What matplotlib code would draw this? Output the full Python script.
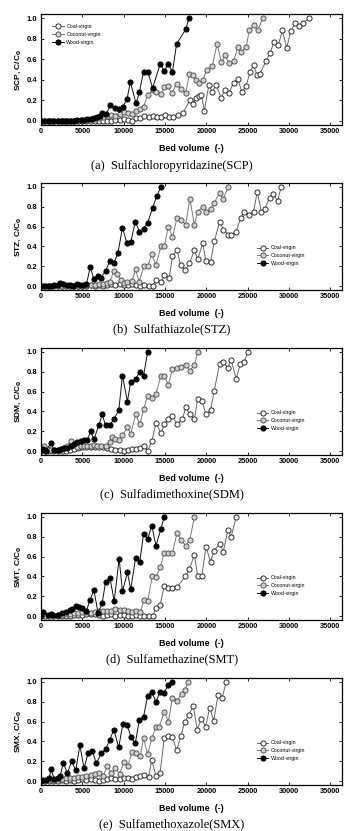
import matplotlib
matplotlib.use("Agg")
import matplotlib.pyplot as plt

# ---- data (bed volume vs C/C0) ----
bv_ticks = [0, 5000, 10000, 15000, 20000, 25000, 30000, 35000]
y_ticks = [0.0, 0.2, 0.4, 0.6, 0.8, 1.0]
series_names = ["Coal-virgin", "Coconut-virgin", "Wood-virgin"]
compounds = ["SCP", "STZ", "SDM", "SMT", "SMX"]
captions = ["(a)  Sulfachloropyridazine(SCP)", "(b)  Sulfathiazole(STZ)",
            "(c)  Sulfadimethoxine(SDM)", "(d)  Sulfamethazine(SMT)",
            "(e)  Sulfamethoxazole(SMX)"]

# (a) SCP
coal_a_x = [0, 500, 1000, 1500, 2000, 2500, 3000, 3500, 4000, 4500, 5000, 5500, 6000, 6500, 7000, 7500,
            8000, 8500, 9000, 9500, 10000, 10500, 11000, 11500, 12000, 12500, 13000, 13500, 14000, 14500,
            15000, 15500, 16000, 16600, 17200, 18000, 18350, 18750, 19150, 19400, 19750, 20300, 20700,
            21200, 21800, 22200, 22700, 23300, 23800, 24300, 24800, 25300, 25700, 26100, 26500, 27200,
            27700, 28200, 28700, 29200, 29700, 30200, 30700, 31200, 31700, 32400]
coal_a_y = [0, 0, 0, 0, 0, 0, 0, 0, 0, 0, 0, 0, 0, 0, 0, 0, 0, 0, 0.01, 0.01, 0.02, 0.01, 0.0, 0.03,
            0.03, 0.045, 0.04, 0.05, 0.04, 0.04, 0.06, 0.04, 0.04, 0.06, 0.08, 0.2, 0.16, 0.22, 0.24,
            0.25, 0.1, 0.35, 0.28, 0.35, 0.22, 0.3, 0.27, 0.37, 0.41, 0.28, 0.34, 0.48, 0.54, 0.45, 0.46,
            0.58, 0.66, 0.77, 0.74, 0.88, 0.71, 0.87, 0.95, 0.92, 0.95, 1.0]
coco_a_x = [0, 500, 1000, 1500, 2000, 2500, 3000, 3500, 4000, 4500, 5000, 5500, 6000, 6500, 7000, 7500,
            8000, 8500, 9000, 9500, 10000, 10500, 11000, 11500, 12000, 12400, 12900, 13500, 13900, 14500,
            14900, 15300, 15800, 16400, 16900, 17500, 17950, 18350, 18750, 19150, 19550, 20100, 20700,
            21300, 21800, 22300, 22700, 23300, 23800, 24200, 24800, 25200, 25700, 26200, 26800]
coco_a_y = [0, 0, 0, 0, 0, 0, 0, 0, 0, 0, 0.01, 0.01, 0.02, 0.02, 0.03, 0.04, 0.05, 0.06, 0.05, 0.07,
            0.09, 0.08, 0.07, 0.1, 0.12, 0.14, 0.25, 0.3, 0.28, 0.26, 0.33, 0.34, 0.27, 0.36, 0.31, 0.27,
            0.46, 0.45, 0.4, 0.37, 0.4, 0.5, 0.53, 0.75, 0.57, 0.64, 0.56, 0.58, 0.72, 0.67, 0.72, 0.88,
            0.93, 0.88, 1.0]
wood_a_x = [0, 400, 800, 1200, 1600, 2000, 2400, 2800, 3200, 3600, 4000, 4400, 4800, 5200, 5600, 6000,
            6400, 6800, 7100, 7400, 7900, 8400, 9000, 9400, 9900, 10400, 10800, 11500, 11900, 12400,
            12900, 13500, 14400, 14900, 15400, 15900, 16400, 17500, 17900]
wood_a_y = [0, 0, 0, 0, 0, 0, 0, 0, 0, 0, 0, 0.01, 0.01, 0.01, 0.02, 0.02, 0.03, 0.04, 0.05, 0.08,
            0.07, 0.15, 0.13, 0.12, 0.14, 0.21, 0.38, 0.17, 0.28, 0.48, 0.48, 0.32, 0.55, 0.49, 0.55,
            0.48, 0.75, 0.89, 1.0]

# (b) STZ
coal_b_x = [0, 500, 1000, 1500, 2000, 2500, 3000, 3500, 4000, 4500, 5000, 5500, 6000, 6500, 7000, 7500,
            8000, 8500, 9000, 9500, 10000, 10500, 11000, 11500, 12000, 12500, 13000, 13500, 13900, 14500,
            14900, 15500, 15900, 16450, 16900, 17450, 17950, 18550, 18950, 19550, 19950, 20500, 20950,
            21600, 22050, 22600, 23000, 23600, 24150, 24600, 25200, 25700, 26150, 26650, 27050, 27650,
            28050, 28600, 29050]
coal_b_y = [0, 0, 0, 0, 0, 0, 0, 0, 0, 0, 0, 0, 0.01, 0.0, 0.01, 0.0, 0.01, 0.02, 0.01, 0.02, 0.01,
            0.01, 0.02, 0.01, 0.0, 0.01, 0.0, 0.0, 0.06, 0.04, 0.11, 0.08, 0.3, 0.36, 0.21, 0.16, 0.23,
            0.36, 0.27, 0.43, 0.25, 0.24, 0.45, 0.65, 0.57, 0.52, 0.52, 0.55, 0.69, 0.75, 0.72, 0.75,
            0.95, 0.75, 0.78, 0.89, 0.93, 0.86, 1.0]
coco_b_x = [0, 500, 1000, 1500, 2000, 2500, 3000, 3500, 4000, 4500, 5000, 5500, 6000, 6500, 7000, 7500,
            8000, 8300, 8800, 9250, 9650, 10050, 10450, 11000, 11450, 11850, 12450, 12900, 13400, 13900,
            14500, 14900, 15400, 15900, 16450, 16900, 17500, 18000, 18550, 18950, 19550, 19950, 20500,
            20950, 21600, 22050, 22600]
coco_b_y = [0, 0, 0, 0, 0, 0, 0, 0, 0, 0, 0, 0.01, 0.01, 0.01, 0.02, 0.02, 0.03, 0.04, 0.15, 0.12,
            0.06, 0.03, 0.04, 0.05, 0.17, 0.04, 0.2, 0.2, 0.32, 0.21, 0.4, 0.4, 0.6, 0.49, 0.69, 0.67,
            0.62, 0.88, 0.62, 0.75, 0.8, 0.75, 0.78, 0.84, 0.94, 0.88, 1.0]
wood_b_x = [0, 400, 800, 1200, 1600, 2000, 2300, 2700, 3100, 3500, 3900, 4300, 4700, 5100, 5500, 5950,
            6400, 6850, 7200, 7800, 8300, 8800, 9300, 9850, 10400, 10850, 11400, 11900, 12400, 12900,
            13500, 14000, 14500]
wood_b_y = [0, 0, 0, 0, 0.01, 0.01, 0.03, 0.02, 0.01, 0.01, 0.0, 0.02, 0.01, 0.01, 0.02, 0.19, 0.07,
            0.1, 0.08, 0.15, 0.25, 0.23, 0.33, 0.59, 0.43, 0.44, 0.65, 0.55, 0.58, 0.64, 0.79, 0.91, 1.0]

# (c) SDM
coal_c_x = [0, 500, 1000, 1500, 2000, 2500, 3000, 3500, 4000, 4500, 5000, 5500, 6000, 6500, 7000, 7500,
            8000, 8500, 9000, 9500, 10000, 10500, 11000, 11500, 12000, 12500, 12900, 13400, 13900, 14500,
            14900, 15400, 15900, 16450, 17100, 17500, 18000, 18550, 18950, 19450, 19950, 20500, 20950,
            21600, 22050, 22600, 23000, 23600, 24100, 24600, 25000]
coal_c_y = [0, 0, 0, 0, 0, 0, 0, 0.01, 0.02, 0.03, 0.04, 0.04, 0.04, 0.04, 0.04, 0.04, 0.03, 0.02,
            0.01, 0.01, 0.0, 0.01, 0.02, 0.02, 0.03, 0.05, 0.0, 0.1, 0.28, 0.18, 0.27, 0.32, 0.35, 0.27,
            0.32, 0.44, 0.37, 0.32, 0.53, 0.51, 0.37, 0.41, 0.61, 0.88, 0.9, 0.84, 0.92, 0.73, 0.88, 0.9,
            1.0]
coco_c_x = [0, 400, 800, 1200, 1600, 2000, 2400, 2800, 3200, 3600, 4000, 4400, 4800, 5200, 5600, 6000,
            6400, 6800, 7200, 7800, 8300, 8600, 9000, 9450, 9850, 10450, 10850, 11450, 11950, 12400,
            12900, 13400, 13900, 14500, 14900, 15400, 15900, 16450, 16900, 17500, 18000, 18550, 18950]
coco_c_y = [0.0, 0.05, 0.02, 0.01, 0.01, 0.01, 0.02, 0.03, 0.05, 0.1, 0.06, 0.04, 0.05, 0.05, 0.05,
            0.05, 0.06, 0.05, 0.05, 0.05, 0.09, 0.14, 0.12, 0.11, 0.16, 0.24, 0.17, 0.37, 0.27, 0.42,
            0.56, 0.54, 0.58, 0.76, 0.76, 0.67, 0.83, 0.84, 0.85, 0.87, 0.81, 0.87, 1.0]
wood_c_x = [0, 300, 600, 1200, 1600, 2000, 2400, 2800, 3200, 3600, 4000, 4400, 4800, 5200, 5600, 6000,
            6400, 7000, 7400, 7800, 8300, 8800, 9400, 9850, 10450, 10850, 11450, 11950, 12400, 12900]
wood_c_y = [0.01, 0.02, 0.0, 0.08, 0.01, 0.01, 0.02, 0.03, 0.03, 0.05, 0.07, 0.09, 0.1, 0.11, 0.11,
            0.2, 0.12, 0.26, 0.37, 0.26, 0.26, 0.32, 0.41, 0.76, 0.5, 0.7, 0.73, 0.8, 0.76, 1.0]

# (d) SMT
coal_d_x = [0, 500, 1000, 1500, 2000, 2500, 3000, 3500, 4000, 4500, 5000, 5500, 6000, 6500, 7000, 7500,
            8000, 8500, 9000, 9500, 10000, 10500, 11000, 11500, 12000, 12500, 13000, 13500, 13900, 14400,
            14900, 15400, 15900, 16450, 17450, 17950, 18550, 18950, 19450, 19950, 20500, 20950, 21600,
            22050, 22600, 23000, 23600]
coal_d_y = [0, 0, 0, 0, 0, 0, 0, 0, 0.01, 0.01, 0.01, 0.02, 0.02, 0.02, 0.01, 0.0, 0.01, 0.02, 0.0,
            0.01, 0.01, 0.0, 0.0, 0.01, 0.0, 0.0, 0.0, 0.0, 0.08, 0.11, 0.3, 0.28, 0.28, 0.29, 0.4, 0.47,
            0.62, 0.4, 0.4, 0.7, 0.55, 0.66, 0.73, 0.65, 0.87, 0.8, 1.0]
coco_d_x = [0, 500, 1000, 1500, 2000, 2500, 3000, 3500, 4000, 4500, 5000, 5500, 6000, 6500, 7000, 7500,
            8000, 8500, 9000, 9500, 10000, 10500, 11000, 11500, 12000, 12450, 12900, 13450, 13900, 14400,
            14900, 15400, 15900, 16450, 16900, 17500, 18000, 18550]
coco_d_y = [0, 0, 0, 0, 0.01, 0.01, 0.02, 0.02, 0.03, 0.03, 0.04, 0.04, 0.03, 0.04, 0.05, 0.05, 0.05,
            0.05, 0.07, 0.06, 0.06, 0.05, 0.04, 0.05, 0.04, 0.16, 0.15, 0.4, 0.39, 0.49, 0.64, 0.64, 0.64,
            0.84, 0.77, 0.71, 0.77, 1.0]
wood_d_x = [0, 300, 800, 1200, 1500, 2000, 2500, 3000, 3500, 3800, 4200, 4600, 5000, 5500, 5900, 6400,
            6900, 7400, 7800, 8350, 8850, 9450, 9850, 10450, 10850, 11450, 11950, 12400, 12900, 13400,
            13900, 14500, 14900]
wood_d_y = [0.0, 0.04, 0.01, 0.02, 0.01, 0.01, 0.03, 0.04, 0.06, 0.07, 0.1, 0.09, 0.08, 0.05, 0.16,
            0.26, 0.03, 0.13, 0.34, 0.38, 0.15, 0.58, 0.25, 0.44, 0.27, 0.59, 0.55, 0.83, 0.78, 0.91,
            0.71, 0.88, 1.0]

# (e) SMX
coal_e_x = [0, 500, 1000, 1500, 2000, 2500, 3000, 3500, 4000, 4500, 5000, 5500, 6000, 6500, 7000, 7500,
            8000, 8500, 9000, 9500, 10000, 10500, 11000, 11500, 12000, 12500, 13000, 13400, 13900, 14400,
            14900, 15400, 15900, 16400, 16900, 17400, 17900, 18400, 18900, 19400, 19900, 20400, 20900,
            21400, 21900, 22400]
coal_e_y = [0, 0, 0, 0, 0, 0.01, 0.0, 0.01, 0.0, 0.01, 0.02, 0.01, 0.02, 0.01, 0.0, 0.01, 0.02, 0.03,
            0.02, 0.02, 0.03, 0.03, 0.02, 0.04, 0.05, 0.06, 0.04, 0.21, 0.05, 0.08, 0.43, 0.45, 0.44,
            0.31, 0.45, 0.6, 0.67, 0.76, 0.52, 0.63, 0.55, 0.74, 0.61, 0.87, 0.84, 1.0]
coco_e_x = [0, 500, 1000, 1500, 2000, 2500, 3000, 3500, 4000, 4500, 5000, 5500, 6000, 6500, 7000, 7500,
            8000, 8500, 9000, 9500, 10000, 10500, 11000, 11500, 12000, 12400, 12900, 13400, 13900, 14300,
            14900, 15400, 15900, 16400, 17000, 17400, 17800]
coco_e_y = [0, 0, 0.01, 0.01, 0.02, 0.02, 0.03, 0.03, 0.03, 0.04, 0.04, 0.05, 0.06, 0.07, 0.08, 0.05,
            0.15, 0.08, 0.13, 0.07, 0.19, 0.15, 0.29, 0.28, 0.25, 0.43, 0.27, 0.43, 0.55, 0.55, 0.7, 0.6,
            0.84, 0.81, 0.88, 0.92, 1.0]
wood_e_x = [0, 300, 600, 1000, 1200, 1600, 2000, 2300, 2700, 3200, 3700, 4200, 4700, 5200, 5700, 6200,
            6700, 7300, 7800, 8300, 8800, 9400, 9900, 10400, 10900, 11400, 11900, 12400, 12900, 13400,
            13900, 14400, 14900, 15400, 15800]
wood_e_y = [0.0, 0.01, 0.01, 0.03, 0.12, 0.02, 0.03, 0.05, 0.18, 0.08, 0.2, 0.11, 0.36, 0.13, 0.28,
            0.3, 0.18, 0.28, 0.32, 0.41, 0.52, 0.34, 0.58, 0.57, 0.44, 0.38, 0.62, 0.65, 0.86, 0.9, 0.8,
            0.9, 0.89, 0.97, 1.0]

panels = [
    [(coal_a_x, coal_a_y), (coco_a_x, coco_a_y), (wood_a_x, wood_a_y)],
    [(coal_b_x, coal_b_y), (coco_b_x, coco_b_y), (wood_b_x, wood_b_y)],
    [(coal_c_x, coal_c_y), (coco_c_x, coco_c_y), (wood_c_x, wood_c_y)],
    [(coal_d_x, coal_d_y), (coco_d_x, coco_d_y), (wood_d_x, wood_d_y)],
    [(coal_e_x, coal_e_y), (coco_e_x, coco_e_y), (wood_e_x, wood_e_y)],
]

# marker face, marker edge, line colour per series
styles = [("white", "#2a2a2a", "#666666"),
          ("#d0d0d0", "#555555", "#7a7a7a"),
          ("black", "black", "#111111")]

plt.rcParams["font.family"] = ["Liberation Sans", "DejaVu Sans"]

W, H = 344, 831
fig = plt.figure(figsize=(W / 100, H / 100), dpi=100)

# axes boxes in pixels: (top, bottom)
boxes = [(14, 125), (183, 290), (348, 455), (513, 620), (678, 785)]
cap_y = [166, 329, 494, 659, 824]

for i, data in enumerate(panels):
    top, bot = boxes[i]
    ax = fig.add_axes([41 / W, 1 - bot / H, 301 / W, (bot - top) / H])
    for (x, y), name, (mfc, mec, lc) in zip(data, series_names, styles):
        ax.plot(x, y, "-o", color=lc, lw=0.7, ms=3.7, mfc=mfc, mec=mec, mew=0.7, label=name)
    ax.set_xlim(0, 36400)
    ax.set_ylim(-0.04, 1.04)
    ax.set_xticks(bv_ticks)
    ax.set_yticks(y_ticks)
    ax.set_xticklabels([str(t) for t in bv_ticks], fontsize=5.3, fontweight="bold")
    ax.set_yticklabels(["%.1f" % t for t in y_ticks], fontsize=5.5, fontweight="bold")
    ax.tick_params(direction="in", top=True, right=True, length=2.5, width=0.6, pad=2.5)
    for s in ax.spines.values():
        s.set_linewidth(0.9)
    ax.set_xlabel("Bed volume  (-)", fontsize=6.4, fontweight="bold", labelpad=6)
    ax.set_ylabel(compounds[i] + ", C/C$_\\mathbf{0}$", fontsize=6, fontweight="bold", labelpad=3)
    if i == 0:
        ax.legend(loc="upper left", bbox_to_anchor=(0.03, 0.93), frameon=False, fontsize=3.8,
                  handlelength=2.2, handletextpad=0.5, labelspacing=0.55, borderaxespad=0)
    else:
        ax.legend(loc="center left", bbox_to_anchor=(0.71, 0.32), frameon=False, fontsize=3.8,
                  handlelength=2.2, handletextpad=0.5, labelspacing=0.55, borderaxespad=0)
    fig.text(0.5, 1 - cap_y[i] / H, captions[i], ha="center", va="center", fontsize=9,
             family=["Liberation Serif", "DejaVu Serif"])

fig.savefig("out.png", dpi=100)
